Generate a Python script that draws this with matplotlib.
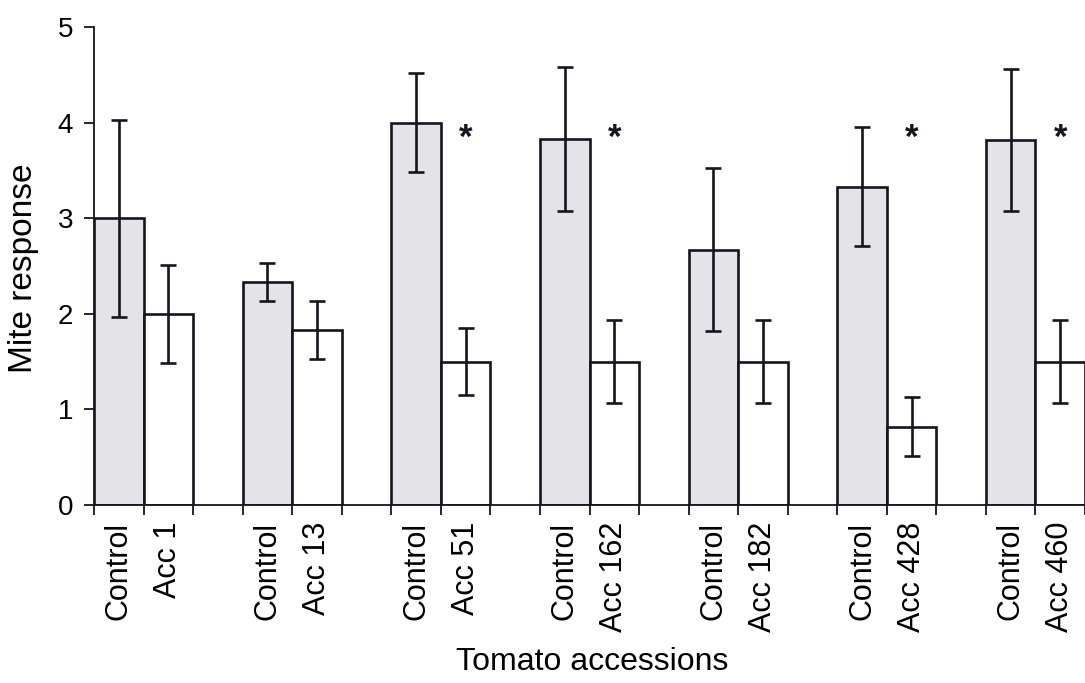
import numpy as np
import matplotlib.pyplot as plt

plt.rcParams['font.family'] = ['Liberation Sans', 'DejaVu Sans']

accessions = ["Acc 1", "Acc 13", "Acc 51", "Acc 162", "Acc 182", "Acc 428", "Acc 460"]
control_mean = [3.0, 2.33, 4.0, 3.83, 2.67, 3.33, 3.82]
control_err = [1.03, 0.2, 0.52, 0.75, 0.85, 0.62, 0.74]
acc_mean = [2.0, 1.83, 1.5, 1.5, 1.5, 0.82, 1.5]
acc_err = [0.51, 0.3, 0.35, 0.43, 0.43, 0.31, 0.43]
significant = [False, False, True, True, False, True, True]

fig = plt.figure(figsize=(10.85, 6.83), dpi=100)
ax = fig.add_axes([94/1085, 178/683, 991/1085, 478/683])

n = len(accessions)
x_ctrl = np.arange(n) * 3 + 0.5
x_acc = x_ctrl + 1

edge = '#15151f'
lw = 1.9
ax.bar(x_ctrl, control_mean, width=1.0, color='#e4e4e8', edgecolor=edge, linewidth=lw, zorder=2)
ax.bar(x_acc, acc_mean, width=1.0, color='white', edgecolor=edge, linewidth=lw, zorder=2)
ax.errorbar(x_ctrl, control_mean, yerr=control_err, fmt='none', ecolor=edge,
            elinewidth=lw, capsize=5.8, capthick=lw, zorder=3)
ax.errorbar(x_acc, acc_mean, yerr=acc_err, fmt='none', ecolor=edge,
            elinewidth=lw, capsize=5.8, capthick=lw, zorder=3)

for i in range(n):
    if significant[i]:
        ax.text(x_acc[i], 3.84, '*', ha='center', va='center', fontsize=25,
                fontweight='bold', color=edge)

ax.set_xlim(0, 991/50)
ax.set_ylim(0, 5)
ax.set_yticks([0, 1, 2, 3, 4, 5])
ax.tick_params(axis='y', labelsize=20, length=7, width=1.3, pad=8, color=edge)

edges = np.sort(np.concatenate([np.arange(n) * 3, np.arange(n) * 3 + 1, np.arange(n) * 3 + 2]))
ax.set_xticks(edges)
ax.set_xticklabels([])
ax.tick_params(axis='x', which='major', length=7, width=1.3, color=edge)

labels = []
centers = []
for i in range(n):
    centers += [x_ctrl[i], x_acc[i]]
    labels += ["Control", accessions[i]]
ax.set_xticks(centers, minor=True)
ax.set_xticklabels(labels, minor=True, rotation=90, fontsize=22, va='top', ha='center')
ax.tick_params(axis='x', which='minor', length=0, pad=12)

ax.spines['top'].set_visible(False)
ax.spines['right'].set_visible(False)
for s in ['left', 'bottom']:
    ax.spines[s].set_linewidth(1.3)
    ax.spines[s].set_color(edge)

fig.text(592/1085, 1 - 662/683, "Tomato accessions", ha='center', va='center', fontsize=23)
fig.text(24/1085, 1 - 268/683, "Mite response", ha='center', va='center', fontsize=24, rotation=90)

fig.savefig("out.png", dpi=100)
